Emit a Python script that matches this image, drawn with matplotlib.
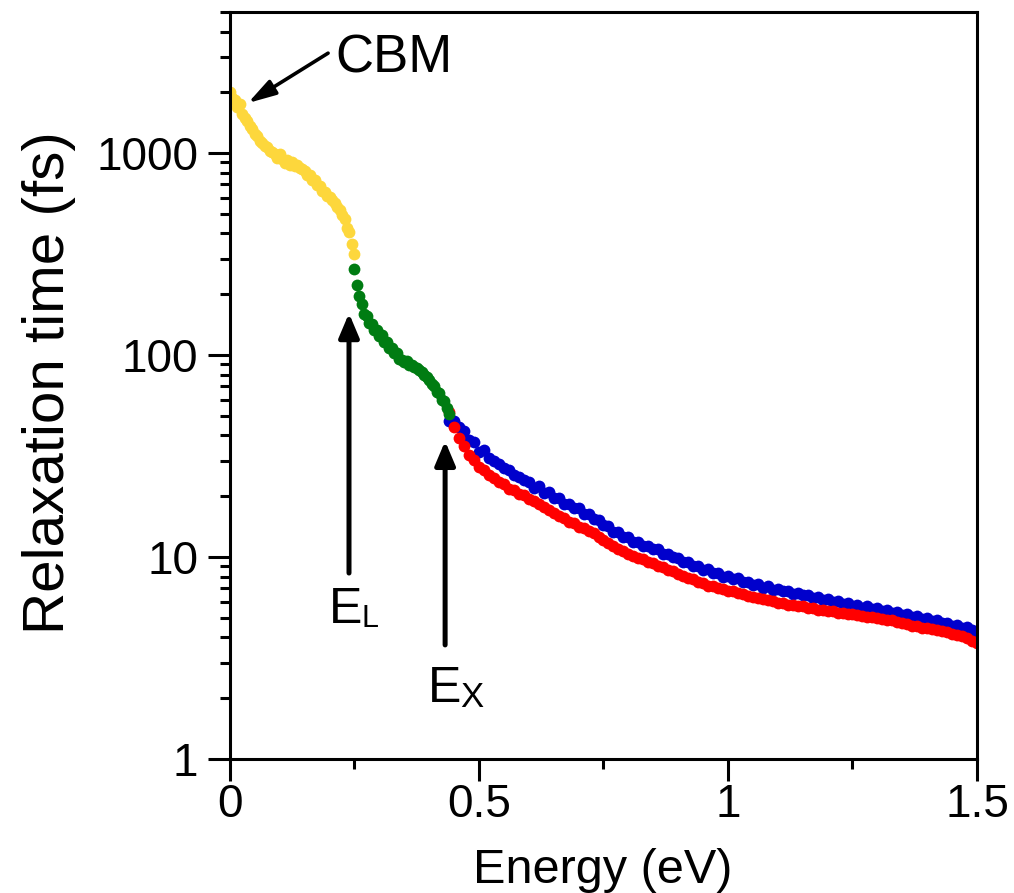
import numpy as np
import matplotlib
matplotlib.use("Agg")
import matplotlib.pyplot as plt
from matplotlib.ticker import FixedLocator, NullFormatter

plt.rcParams['font.family'] = ['Liberation Sans', 'DejaVu Sans']

# Data (energy in eV, relaxation time in fs)
e_yellow = np.round(np.arange(0.0, 0.2501, 0.005), 3)
t_yellow = [2000, 1880, 1830, 1700, 1760, 1560, 1490, 1440, 1370, 1310,
            1240, 1210, 1150, 1120, 1090, 1070, 1020, 1010, 990, 950,
            990, 930, 895, 925, 870, 905, 860, 870, 845, 830,
            820, 780, 775, 735, 735, 695, 690, 650, 645, 615,
            605, 585, 565, 540, 525, 495, 470, 425, 405, 355,
            315]

e_green = np.round(np.arange(0.25, 0.4401, 0.005), 3)
t_green = [268, 222, 196, 178, 160, 156, 144, 143, 133, 133,
           124, 125, 116, 116, 108, 109, 102, 102, 96, 95,
           92, 93, 89, 89, 87, 86, 84, 82, 80, 78,
           75, 72, 70, 66, 65, 60, 59, 55, 51]

e_red = np.round(np.arange(0.44, 1.5001, 0.01), 2)
t_red = [52, 44, 39, 35.5, 32, 30.2, 28, 27, 25.4, 24.7,
         23.4, 22.9, 21.8, 21.4, 20.6, 20.2, 19.4, 19.0, 18.2, 17.7,
         17.0, 16.6, 15.9, 15.6, 14.9, 14.7, 14.1, 13.9, 13.4, 13.1,
         12.5, 12.2, 11.7, 11.4, 10.9, 10.7, 10.3, 10.15, 9.85, 9.75,
         9.45, 9.35, 9.05, 8.95, 8.65, 8.55, 8.2, 8.05, 7.85, 7.75,
         7.5, 7.4, 7.2, 7.15, 7.0, 6.95, 6.8, 6.75, 6.6, 6.55,
         6.4, 6.35, 6.25, 6.2, 6.1, 6.05, 5.95, 5.95, 5.8, 5.8,
         5.7, 5.7, 5.6, 5.58, 5.48, 5.48, 5.38, 5.38, 5.3, 5.3,
         5.22, 5.22, 5.14, 5.12, 5.06, 5.05, 4.97, 4.95, 4.87, 4.85,
         4.77, 4.72, 4.66, 4.58, 4.54, 4.47, 4.45, 4.38, 4.36, 4.28,
         4.25, 4.18, 4.13, 4.05, 3.98, 3.86, 3.75]

e_blue = np.round(np.arange(0.44, 1.5001, 0.01), 2)
t_blue = [47, 47, 44, 42, 38, 37, 33, 34, 31, 30,
          29, 27.5, 27, 25.5, 25, 24, 23.5, 22, 22.5, 20.8,
          21, 19.6, 19.5, 18.4, 18.2, 17.4, 17.4, 16.4, 16.4, 15.4,
          15.2, 14.4, 14.2, 13.3, 13.3, 12.6, 12.5, 11.9, 11.9, 11.4,
          11.4, 11.0, 10.9, 10.4, 10.4, 9.95, 9.9, 9.45, 9.5, 9.05,
          9.0, 8.65, 8.7, 8.3, 8.35, 8.0, 8.05, 7.75, 7.85, 7.5,
          7.55, 7.3, 7.35, 7.05, 7.15, 6.9, 6.95, 6.75, 6.8, 6.55,
          6.65, 6.45, 6.5, 6.25, 6.35, 6.15, 6.2, 6.0, 6.05, 5.88,
          5.95, 5.75, 5.8, 5.62, 5.7, 5.52, 5.56, 5.42, 5.45, 5.3,
          5.33, 5.18, 5.2, 5.05, 5.1, 4.93, 4.97, 4.82, 4.85, 4.7,
          4.72, 4.58, 4.6, 4.45, 4.48, 4.35, 4.25]

x_ticks = [0, 0.5, 1, 1.5]
x_labels = ["0", "0.5", "1", "1.5"]
x_minor = [0.25, 0.75, 1.25]
y_ticks = [1, 10, 100, 1000]
y_labels = ["1", "10", "100", "1000"]

fig = plt.figure(figsize=(10.14, 8.93), dpi=100)
ax = fig.add_axes([0.2268, 0.1501, 0.7367, 0.8365])

ax.plot(e_blue, t_blue, 'o', ms=8.5, mec='none', color='#0000cc')
ax.plot(e_red, t_red, 'o', ms=8.5, mec='none', color='#ff0000')
ax.plot(e_yellow, t_yellow, 'o', ms=8.5, mec='none', color='#fdd73c')
ax.plot(e_green, t_green, 'o', ms=8.5, mec='none', color='#007c12')

ax.set_yscale('log')
ax.set_xlim(0, 1.5)
ax.set_ylim(1, 5000)

ax.xaxis.set_major_locator(FixedLocator(x_ticks))
ax.set_xticklabels(x_labels)
ax.xaxis.set_minor_locator(FixedLocator(x_minor))
ax.yaxis.set_major_locator(FixedLocator(y_ticks))
ax.set_yticklabels(y_labels)
y_minor = [m * d for d in (1, 10, 100, 1000) for m in range(2, 10) if m * d <= 5000]
ax.yaxis.set_minor_locator(FixedLocator(y_minor))
ax.yaxis.set_minor_formatter(NullFormatter())

ax.tick_params(which='major', direction='out', length=16, width=2.2,
               labelsize=33, pad=1)
ax.tick_params(axis='y', which='major', pad=7)
ax.tick_params(which='minor', direction='out', length=7, width=2.2)
for s in ax.spines.values():
    s.set_linewidth(2.2)

fig.text(49 / 1014, 1 - 383 / 893, "Relaxation time (fs)", rotation=90,
         ha='center', va='center', fontsize=42)
fig.text(603 / 1014, 1 - 883 / 893, "Energy (eV)", ha='center',
         va='baseline', fontsize=35)

# annotations
ax.annotate('', xy=(0.036, 1770), xytext=(0.197, 3126),
            arrowprops=dict(arrowstyle='-|>,head_length=1.2,head_width=0.35',
                            mutation_scale=14, lw=2.6, color='k',
                            shrinkA=0, shrinkB=0))
ax.text(0.211, 2518, "CBM", fontsize=38, ha='left', va='baseline')

ax.annotate('', xy=(0.239, 161), xytext=(0.239, 8.33),
            arrowprops=dict(arrowstyle='-|>,head_length=0.9,head_width=0.38',
                            mutation_scale=16, lw=3.6, color='k',
                            shrinkA=0, shrinkB=0))
ax.text(0.199, 4.71, "E", fontsize=36, ha='left', va='baseline')
ax.text(0.265, 4.5, "L", fontsize=22, ha='left', va='baseline')

ax.annotate('', xy=(0.432, 37.5), xytext=(0.432, 3.67),
            arrowprops=dict(arrowstyle='-|>,head_length=0.9,head_width=0.38',
                            mutation_scale=16, lw=3.6, color='k',
                            shrinkA=0, shrinkB=0))
ax.text(0.398, 1.915, "E", fontsize=36, ha='left', va='baseline')
ax.text(0.462, 1.808, "X", fontsize=25, ha='left', va='baseline')

fig.savefig("out.png", dpi=100)
